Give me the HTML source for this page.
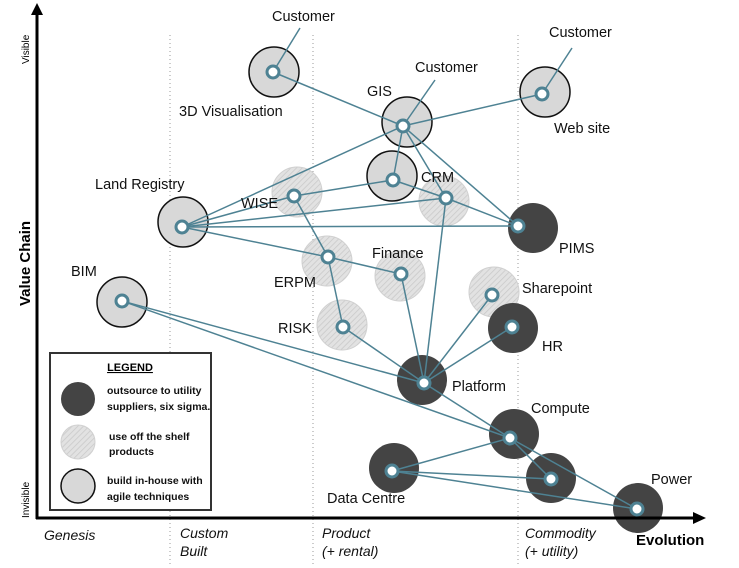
<!DOCTYPE html>
<html><head><meta charset="utf-8"><style>body{margin:0;background:#fff}svg{display:block}text{font-family:"Liberation Sans",sans-serif}</style></head><body>
<svg width="739" height="568" viewBox="0 0 739 568" xmlns="http://www.w3.org/2000/svg">
<defs><pattern id="h" width="4" height="4" patternUnits="userSpaceOnUse" patternTransform="rotate(45)"><rect width="4" height="4" fill="#e2e2e2"/><line x1="0" y1="0" x2="0" y2="4" stroke="#c8c8c8" stroke-width="1.5"/></pattern></defs>
<g stroke="#999" stroke-width="1" stroke-dasharray="1,3"><line x1="170" y1="35" x2="170" y2="565"/><line x1="313" y1="35" x2="313" y2="565"/><line x1="518" y1="35" x2="518" y2="565"/></g>
<g stroke="#111" stroke-width="1.5" fill="#d8d8d8">
<circle cx="274" cy="72" r="25"/><circle cx="407" cy="122" r="25"/><circle cx="545" cy="92" r="25"/><circle cx="392" cy="176" r="25"/><circle cx="183" cy="222" r="25"/><circle cx="122" cy="302" r="25"/></g>
<g fill="url(#h)" stroke="#d0d0d0" stroke-width="1">
<circle cx="297" cy="192" r="25"/><circle cx="444" cy="201" r="25"/><circle cx="327" cy="261" r="25"/><circle cx="400" cy="276" r="25"/><circle cx="494" cy="292" r="25"/><circle cx="342" cy="325" r="25"/></g>
<g fill="#444"><circle cx="533" cy="228" r="25"/><circle cx="513" cy="328" r="25"/><circle cx="422" cy="380" r="25"/><circle cx="514" cy="434" r="25"/><circle cx="394" cy="468" r="25"/><circle cx="551" cy="478" r="25"/><circle cx="638" cy="508" r="25"/></g>
<g stroke="#4e8293" stroke-width="1.5">
<line x1="273" y1="72" x2="300" y2="28"/><line x1="273" y1="72" x2="403" y2="126"/>
<line x1="403" y1="126" x2="435" y2="80"/><line x1="403" y1="126" x2="542" y2="94"/><line x1="542" y1="94" x2="572" y2="48"/>
<line x1="403" y1="126" x2="393" y2="180"/><line x1="403" y1="126" x2="446" y2="198"/><line x1="403" y1="126" x2="518" y2="226"/><line x1="403" y1="126" x2="182" y2="227"/>
<line x1="182" y1="227" x2="294" y2="196"/><line x1="182" y1="227" x2="446" y2="198"/><line x1="182" y1="227" x2="518" y2="226"/><line x1="182" y1="227" x2="328" y2="257"/>
<line x1="294" y1="196" x2="393" y2="180"/><line x1="393" y1="180" x2="446" y2="198"/><line x1="446" y1="198" x2="518" y2="226"/>
<line x1="294" y1="196" x2="328" y2="257"/><line x1="328" y1="257" x2="401" y2="274"/><line x1="328" y1="257" x2="343" y2="327"/>
<line x1="343" y1="327" x2="424" y2="383"/><line x1="401" y1="274" x2="424" y2="383"/><line x1="446" y1="198" x2="424" y2="383"/><line x1="492" y1="295" x2="424" y2="383"/><line x1="512" y1="327" x2="424" y2="383"/>
<line x1="122" y1="301" x2="424" y2="383"/><line x1="122" y1="301" x2="510" y2="438"/><line x1="424" y1="383" x2="510" y2="438"/>
<line x1="510" y1="438" x2="551" y2="479"/><line x1="510" y1="438" x2="637" y2="509"/>
<line x1="392" y1="471" x2="510" y2="438"/><line x1="392" y1="471" x2="551" y2="479"/><line x1="392" y1="471" x2="637" y2="509"/>
</g>
<g fill="#fff" stroke="#4e8293" stroke-width="3">
<circle cx="273" cy="72" r="6"/><circle cx="403" cy="126" r="6"/><circle cx="542" cy="94" r="6"/><circle cx="393" cy="180" r="6"/><circle cx="446" cy="198" r="6"/><circle cx="294" cy="196" r="6"/><circle cx="182" cy="227" r="6"/><circle cx="518" cy="226" r="6"/><circle cx="328" cy="257" r="6"/><circle cx="401" cy="274" r="6"/><circle cx="122" cy="301" r="6"/><circle cx="492" cy="295" r="6"/><circle cx="512" cy="327" r="6"/><circle cx="343" cy="327" r="6"/><circle cx="424" cy="383" r="6"/><circle cx="510" cy="438" r="6"/><circle cx="392" cy="471" r="6"/><circle cx="551" cy="479" r="6"/><circle cx="637" cy="509" r="6"/></g>
<g font-size="14.5" fill="#111">
<text x="272" y="21">Customer</text><text x="179" y="116">3D Visualisation</text><text x="415" y="72">Customer</text><text x="367" y="96">GIS</text>
<text x="549" y="37">Customer</text><text x="554" y="133">Web site</text><text x="421" y="182">CRM</text><text x="241" y="208">WISE</text>
<text x="95" y="189">Land Registry</text><text x="559" y="253">PIMS</text><text x="372" y="258">Finance</text><text x="274" y="287">ERPM</text>
<text x="71" y="276">BIM</text><text x="522" y="293">Sharepoint</text><text x="542" y="351">HR</text><text x="278" y="333">RISK</text>
<text x="452" y="391">Platform</text><text x="531" y="413">Compute</text><text x="327" y="503">Data Centre</text><text x="651" y="484">Power</text>
</g>
<line x1="37" y1="12" x2="37" y2="519" stroke="#000" stroke-width="3"/><polygon points="37,3 31,15 43,15" fill="#000"/>
<line x1="36" y1="518" x2="695" y2="518" stroke="#000" stroke-width="3"/><polygon points="706,518 693,512 693,524" fill="#000"/>
<text transform="translate(29,64) rotate(-90)" font-size="10">Visible</text>
<text transform="translate(29,518) rotate(-90)" font-size="10">Invisible</text>
<text transform="translate(30,306) rotate(-90)" font-size="15" font-weight="bold">Value Chain</text>
<text x="636" y="545" font-size="15" font-weight="bold">Evolution</text>
<g font-size="14" font-style="italic" fill="#111"><text x="44" y="540">Genesis</text><text x="180" y="538">Custom</text><text x="180" y="556">Built</text><text x="322" y="538">Product</text><text x="322" y="556">(+ rental)</text><text x="525" y="538">Commodity</text><text x="525" y="556">(+ utility)</text></g>
<rect x="50" y="353" width="161" height="157" fill="#fff" stroke="#333" stroke-width="2"/>
<text x="130" y="371" font-size="11" font-weight="bold" text-anchor="middle" text-decoration="underline">LEGEND</text>
<circle cx="78" cy="399" r="17" fill="#444"/><circle cx="78" cy="442" r="17" fill="url(#h)" stroke="#d0d0d0"/><circle cx="78" cy="486" r="17" fill="#d8d8d8" stroke="#111" stroke-width="1.5"/>
<g font-size="10.5" font-weight="bold" fill="#111"><text x="107" y="394">outsource to utility</text><text x="107" y="410">suppliers, six sigma.</text><text x="109" y="440">use off the shelf</text><text x="109" y="455">products</text><text x="107" y="484">build in-house with</text><text x="107" y="500">agile techniques</text></g>
</svg></body></html>
